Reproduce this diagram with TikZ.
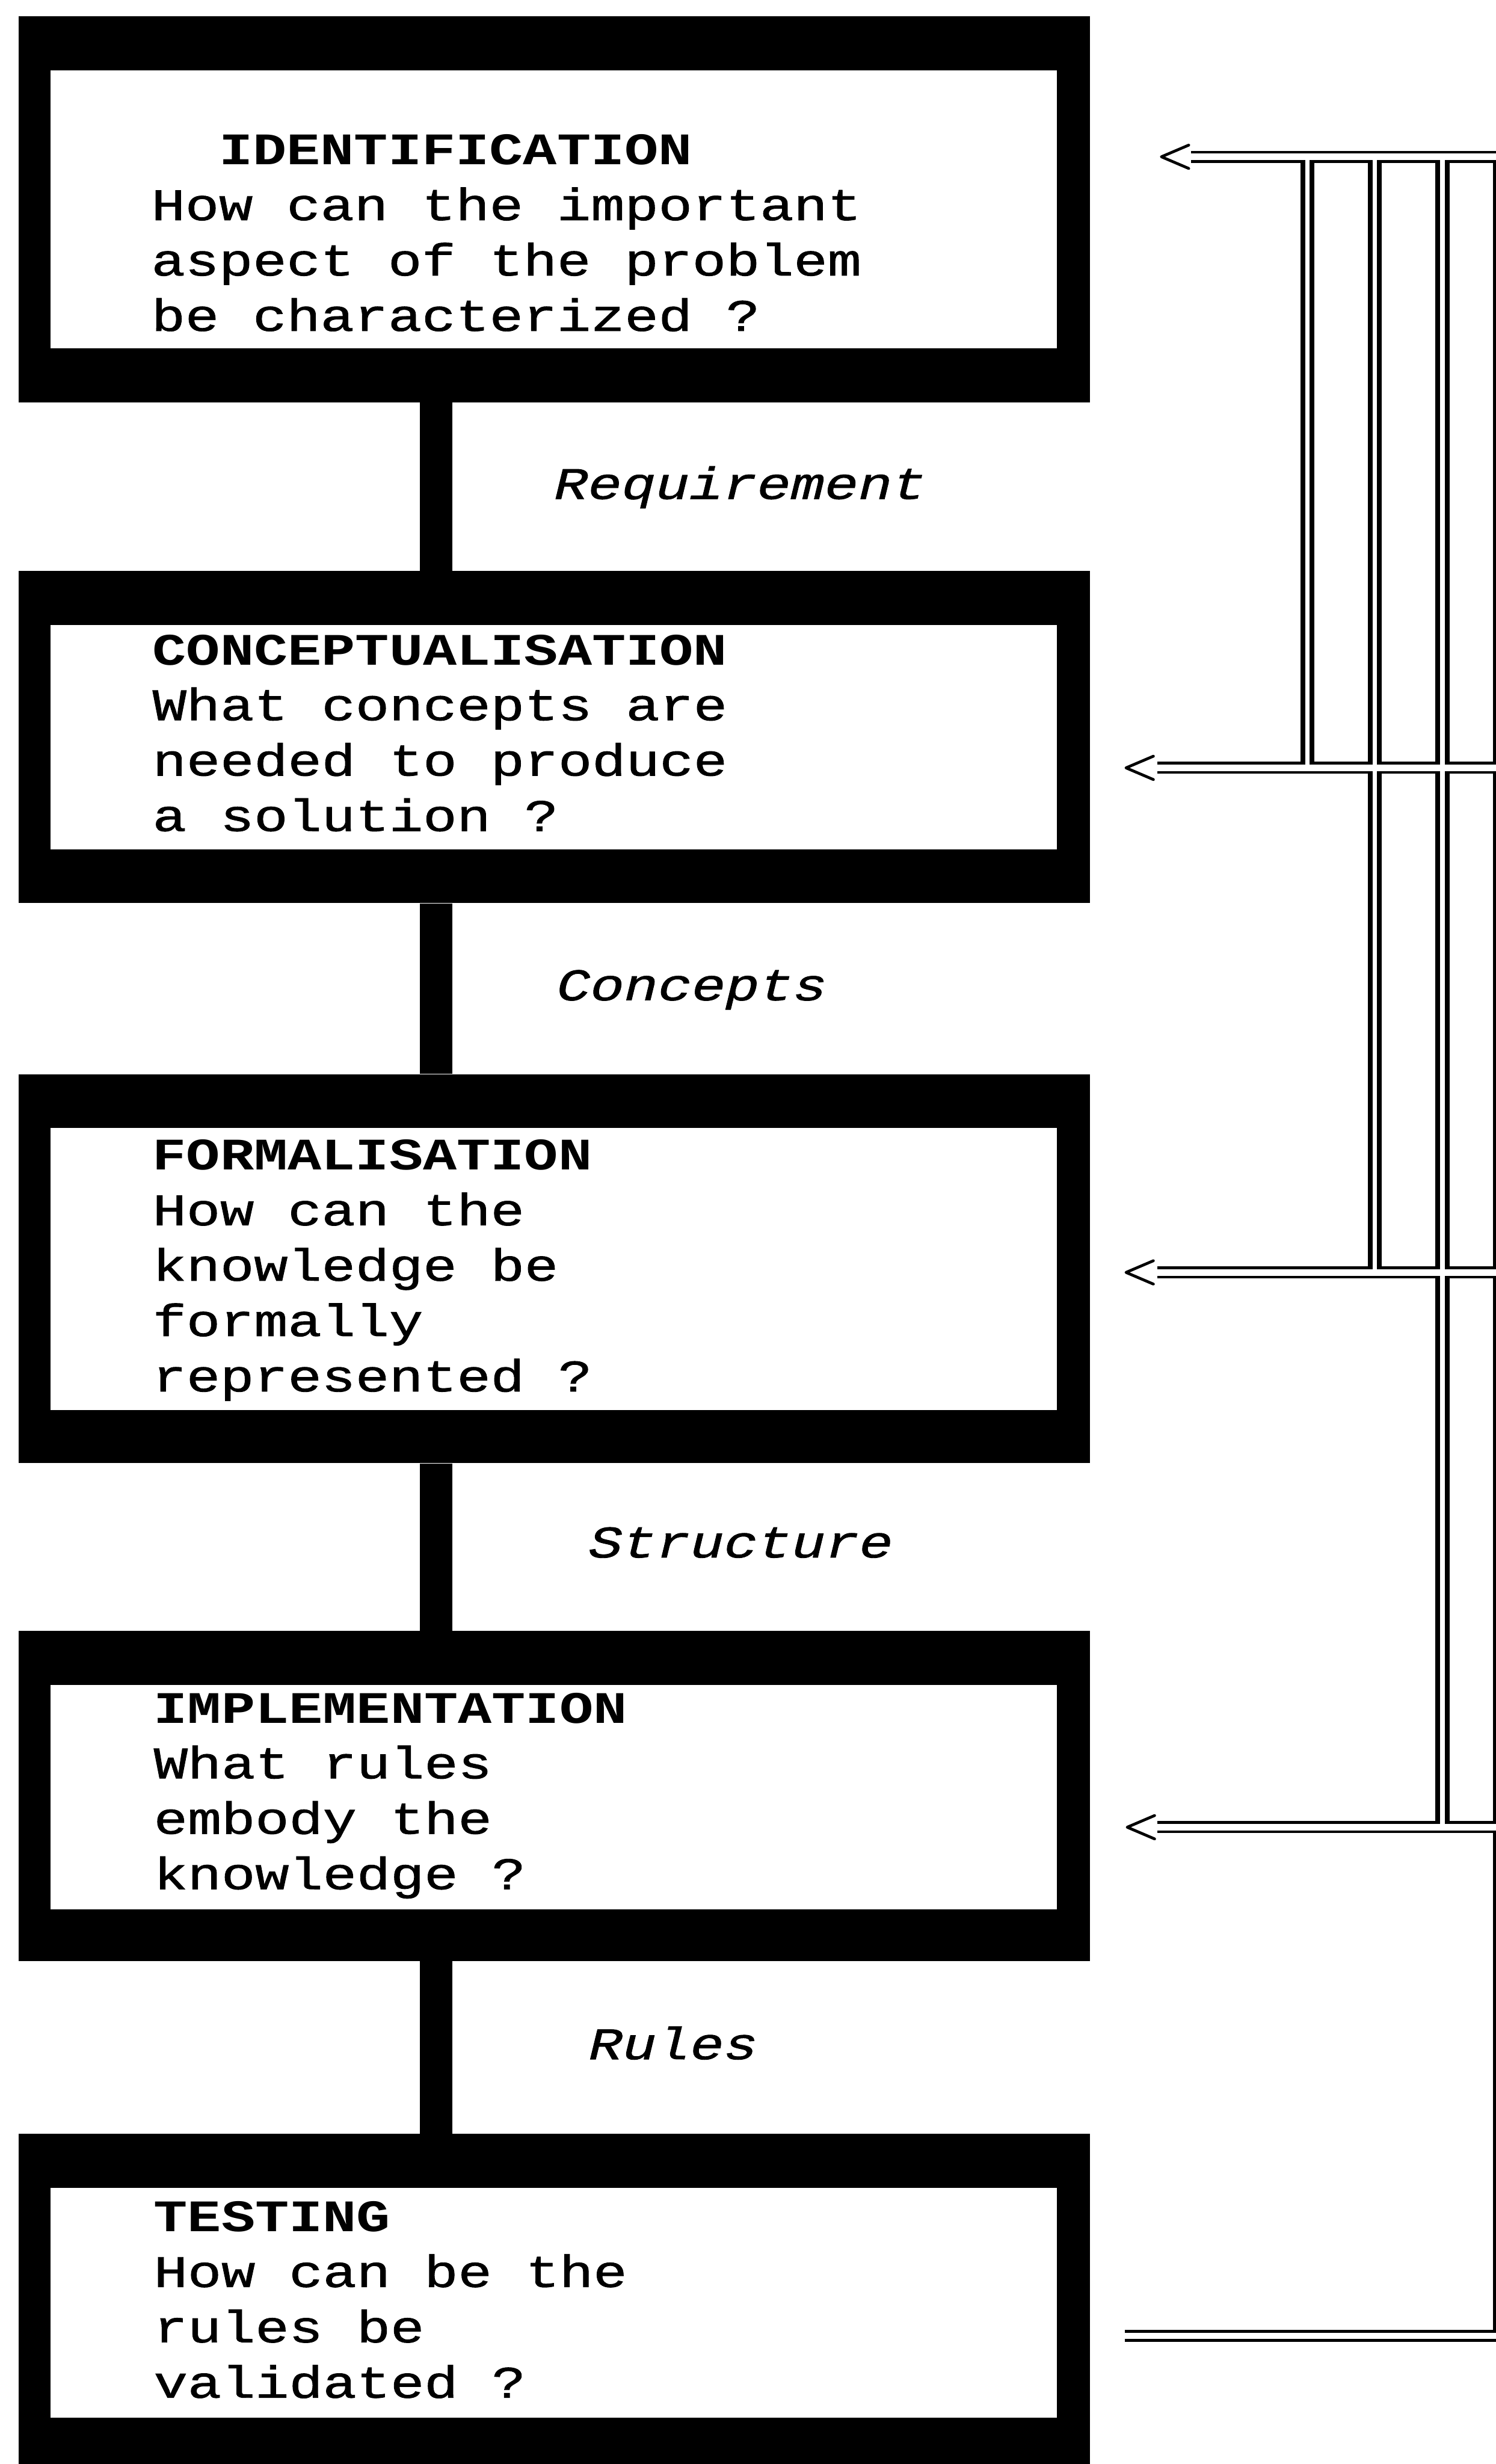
\documentclass[tikz,border=0pt]{standalone}
\usepackage{fontspec}
\usepackage{tikz}
\usetikzlibrary{positioning,calc}

\newfontfamily\pica{Liberation Mono}[FakeStretch=1.25, UprightFeatures={FakeBold=1.2}, ItalicFeatures={FakeBold=1.2}]
\newcommand{\stagefont}{\pica\fontsize{31.9pt}{39.2pt}\selectfont}

\tikzset{
  stagebox/.style={fill=black, minimum width=26.66cm, inner sep=0pt, anchor=north west},
  stagein/.style={fill=white, minimum width=25.04cm, inner sep=0pt, anchor=north west},
  stagetext/.style={anchor=base west, align=left, inner sep=0pt, font=\stagefont},
  flowlabel/.style={anchor=base west, inner sep=0pt, font=\stagefont\itshape},
  stem/.style={line width=0.81cm},
  hrail/.style={line width=0.30cm},
  vrail/.style={line width=0.35cm},
  hgap/.style={white, line width=0.16cm},
  vgap/.style={white, line width=0.11cm},
  barb/.style={line width=0.07cm, line join=round, line cap=round}
}

\begin{document}
\begin{tikzpicture}
  \useasboundingbox (0,0) rectangle (37.20,-61.29);
  \fill[white] (0,0) rectangle (37.20,-61.29);

  % the five stages: black frame with a white panel inside
  \foreach \name/\top/\outh/\inh in {ident/0.40/9.60/6.91, concept/14.20/8.26/5.58, formal/26.71/9.68/7.01, implem/40.56/8.21/5.59, testing/53.07/8.43/5.72} {
    \node[stagebox, minimum height=\outh cm] (\name) at (0.45,-\top) {};
    \node[stagein, minimum height=\inh cm] (\name-in) at ([shift={(0.80,-1.34)}]\name.north west) {};
  }

  % stems between the stages
  \foreach \a/\b in {ident/concept, concept/formal, formal/implem, implem/testing}
    \draw[stem] ([xshift=10.40cm]\a.south west) -- ([xshift=10.40cm]\b.north west);

  % multi-line texts sit on the baseline of their last line
  \node[stagetext] (ident-txt) at (3.76,-8.23) {\phantom{xx}\textbf{IDENTIFICATION}\\How can the important\\aspect of the problem\\be characterized ?};
  \node[stagetext] (concept-txt) at (3.79,-20.67) {\textbf{CONCEPTUALISATION}\\What concepts are\\needed to produce\\a solution ?};
  \node[stagetext] (formal-txt) at (3.79,-34.61) {\textbf{FORMALISATION}\\How can the\\knowledge be\\formally\\represented ?};
  \node[stagetext] (implem-txt) at (3.82,-46.99) {\textbf{IMPLEMENTATION}\\What rules\\embody the\\knowledge ?};
  \node[stagetext] (testing-txt) at (3.82,-59.64) {\textbf{TESTING}\\How can be the\\rules be\\validated ?};

  % what passes from one stage to the next
  \node[flowlabel] (req) at (13.78,-12.41) {Requirement};
  \node[flowlabel] (cpt) at (13.84,-24.88) {Concepts};
  \node[flowlabel] (str) at (14.64,-38.74) {Structure};
  \node[flowlabel] (rul) at (14.64,-51.22) {Rules};

  % feedback bus on the right
  \coordinate (v1) at (32.52,0);
  \coordinate (v2) at (34.20,0);
  \coordinate (v3) at (35.88,0);
  \coordinate (v4) at (37.31,0);
  \foreach \k/\y/\xs in {1/3.90/29.63, 2/19.10/28.79, 3/31.65/28.79, 4/45.45/28.79, 5/58.10/27.98} {
    \coordinate (s\k) at (\xs,-\y);
    \coordinate (b\k) at (37.31,-\y);
  }
  \coordinate (t1) at (28.89,-3.90);
  \coordinate (t2) at (28.01,-19.10);
  \coordinate (t3) at (28.01,-31.65);
  \coordinate (t4) at (28.04,-45.45);

  % outer strokes first, then the white cores so the rails merge
  \foreach \k in {1,...,5}
    \draw[hrail] (s\k) -- (b\k);
  \foreach \j/\n in {1/2, 2/3, 3/4, 4/5}
    \draw[vrail] (v\j |- b1) -- (v\j |- b\n);
  \foreach \k in {1,...,5}
    \draw[hgap] (s\k) -- (b\k);
  \foreach \j/\n in {1/2, 2/3, 3/4, 4/5}
    \draw[vgap] (v\j |- b1) -- (v\j |- b\n);

  % open arrow heads
  \foreach \k in {1,...,4}
    \draw[barb] ([shift={(0.68,0.29)}]t\k) -- (t\k) -- ([shift={(0.68,-0.29)}]t\k);
\end{tikzpicture}
\end{document}
